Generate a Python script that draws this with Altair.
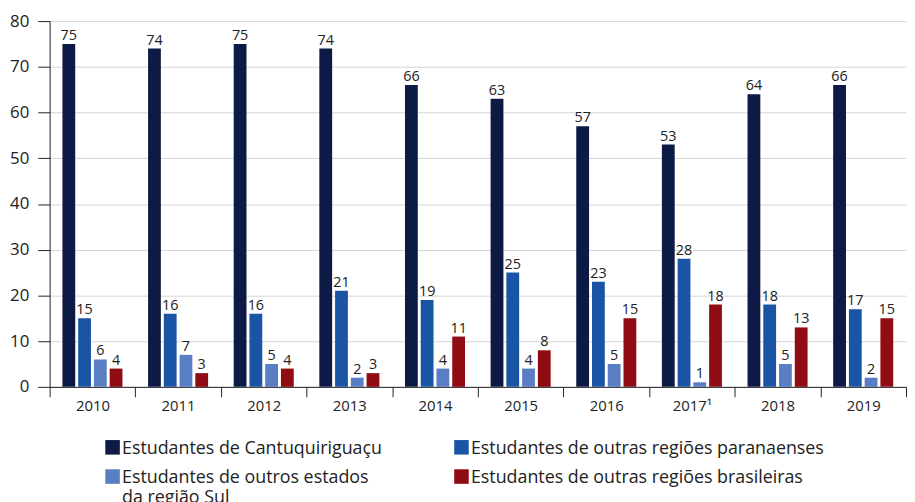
import altair as alt
import pandas as pd

years = ["2010", "2011", "2012", "2013", "2014", "2015", "2016", "2017¹", "2018", "2019"]
series = [
    "Estudantes de Cantuquiriguaçu",
    "Estudantes de outras regiões paranaenses",
    "Estudantes de outros estados da região Sul",
    "Estudantes de outras regiões brasileiras",
]
legend_labels = [
    "Estudantes de Cantuquiriguaçu",
    "Estudantes de outras regiões paranaenses",
    "Estudantes de outros estados\nda região Sul",
    "Estudantes de outras regiões brasileiras",
]
colors = ["#0c1a45", "#1a55a5", "#5a7ec3", "#8e0c12"]

cantu = [75, 74, 75, 74, 66, 63, 57, 53, 64, 66]
parana = [15, 16, 16, 21, 19, 25, 23, 28, 18, 17]
sul = [6, 7, 5, 2, 4, 4, 5, 1, 5, 2]
bras = [4, 3, 4, 3, 11, 8, 15, 18, 13, 15]

rows = []
for s, vals in zip(series, [cantu, parana, sul, bras]):
    for y, v in zip(years, vals):
        rows.append({"year": y, "series": s, "value": v})
df = pd.DataFrame(rows)

FONT = "Open Sans"
TXT = "#222222"

color_scale = alt.Scale(domain=series, range=colors)

base = alt.Chart(df).encode(
    x=alt.X(
        "year:N",
        sort=years,
        scale=alt.Scale(paddingInner=0, paddingOuter=0),
        axis=alt.Axis(
            title=None, labelAngle=0, tickBand="extent", tickSize=10,
            labelFontSize=15, labelFont=FONT, labelColor=TXT, labelPadding=2,
            domainColor=TXT, tickColor=TXT, grid=False,
        ),
    ),
    xOffset=alt.XOffset(
        "series:N", sort=series,
        scale=alt.Scale(paddingInner=0.1875, paddingOuter=0.8125),
    ),
    y=alt.Y(
        "value:Q",
        scale=alt.Scale(domain=[0, 80], nice=False),
        axis=alt.Axis(
            title=None, values=list(range(0, 81, 10)), tickSize=12,
            labelFontSize=17, labelFont=FONT, labelColor=TXT, labelPadding=9,
            domainColor=TXT, tickColor=TXT, gridColor="#d4d4d4",
        ),
    ),
)

bars = base.mark_bar().encode(
    color=alt.Color("series:N", scale=color_scale, legend=None)
)
labels = base.mark_text(
    baseline="alphabetic", dy=-4, fontSize=14.5, font=FONT, color=TXT
).encode(text="value:Q")

main = alt.layer(bars, labels).properties(width=864, height=369)

leg_df = pd.DataFrame({
    "series": series,
    "label": legend_labels,
    "col": [0, 1, 0, 1],
    "row": [0, 0, 1, 1],
})
lx = alt.X("col:Q", scale=alt.Scale(domain=[0, 1], range=[63.5, 415.5]), axis=None)
ly = alt.Y("row:Q", scale=alt.Scale(domain=[0, 1], range=[11, 40.5]), axis=None)
leg_sq = alt.Chart(leg_df).mark_square(size=215, opacity=1).encode(
    x=lx, y=ly, color=alt.Color("series:N", scale=color_scale, legend=None)
)
leg_tx = alt.Chart(leg_df).mark_text(
    align="left", baseline="alphabetic", dx=9.5, dy=6.3, fontSize=18,
    font=FONT, color=TXT, lineBreak="\n", lineHeight=20,
).encode(x=lx, y=ly, text="label:N")
legend = alt.layer(leg_sq, leg_tx).properties(width=864, height=60)

chart = alt.vconcat(main, legend, spacing=23).properties(
    padding={"left": 1, "top": 2, "right": 0, "bottom": 0}
).configure_view(stroke=None)

chart.save("out.html", embed_options={"renderer": "svg", "actions": False})
